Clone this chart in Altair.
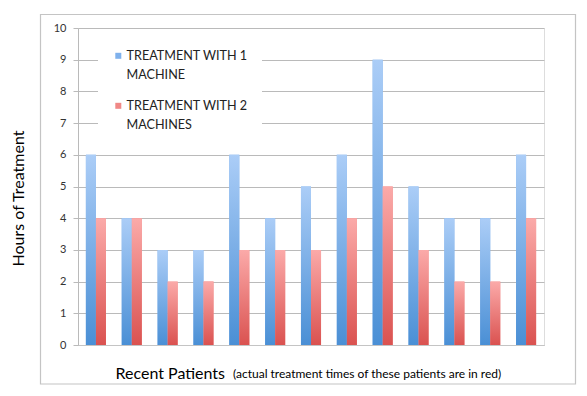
import altair as alt
import pandas as pd

patients = ["1", "2", "3", "4", "5", "6", "7", "8", "9", "10", "11", "12", "13"]
one_machine = [6, 4, 3, 3, 6, 4, 5, 6, 9, 5, 4, 4, 6]
two_machines = [4, 4, 2, 2, 3, 3, 3, 4, 5, 3, 2, 2, 4]
series = ["TREATMENT WITH 1 MACHINE", "TREATMENT WITH 2 MACHINES"]
legend_colors = ["#7fb1ec", "#f08886"]
y_ticks = [0, 1, 2, 3, 4, 5, 6, 7, 8, 9, 10]

rows = []
for p, a, b in zip(patients, one_machine, two_machines):
    rows.append({"patient": p, "series": series[0], "hours": a})
    rows.append({"patient": p, "series": series[1], "hours": b})
df = pd.DataFrame(rows)

W, H = 466, 317
FONT = "Lato"

x = alt.X(
    "patient:N",
    sort=patients,
    scale=alt.Scale(paddingInner=0.44, paddingOuter=0.22),
    axis=alt.Axis(
        title="Recent Patients", labels=False, ticks=False,
        domainColor="#c4c4c4", titleFont=FONT, titleFontSize=16,
        titleFontWeight="normal", titleColor="#000000",
        titleAlign="left", titleBaseline="alphabetic",
        titleX=37, titleY=33.5,
    ),
)
xo = alt.XOffset("series:N", scale=alt.Scale(domain=series, paddingInner=0, paddingOuter=0))
y = alt.Y(
    "hours:Q",
    scale=alt.Scale(domain=[0, 10], nice=False),
    axis=alt.Axis(
        values=y_ticks, title="Hours of Treatment", grid=True,
        gridColor="#bababa", domainColor="#bababa", tickColor="#bababa",
        tickSize=5, labelFont=FONT, labelFontSize=11, labelColor="#333333",
        labelPadding=7, titleFont=FONT, titleFontSize=16,
        titleFontWeight="normal", titleColor="#000000",
        titleAngle=-90, titleAlign="center", titleBaseline="middle",
        titleX=-59.5, titleY=170,
    ),
)

base = alt.Chart(df)

legend_layer = base.mark_bar().encode(
    x=x, xOffset=xo, y=y,
    color=alt.Color(
        "series:N",
        scale=alt.Scale(domain=series, range=legend_colors),
        legend=alt.Legend(
            title=None, orient="none", legendX=20, legendY=7.5, padding=14,
            fillColor="white", symbolType="square", symbolSize=36,
            symbolStrokeWidth=0, labelFont=FONT, labelFontSize=12.6,
            labelColor="#222222", labelOffset=2, labelLimit=400,
            rowPadding=18, labelBaseline="middle",
            labelExpr="split(replace(datum.label, ' MACHINE', '|MACHINE'), '|')",
        ),
    ),
)

blue_grad = alt.Gradient(
    gradient="linear",
    stops=[alt.GradientStop(color="#abcdf7", offset=0), alt.GradientStop(color="#4a8fd5", offset=1)],
    x1=0, x2=0, y1=0, y2=1,
)
red_grad = alt.Gradient(
    gradient="linear",
    stops=[alt.GradientStop(color="#fbaaa9", offset=0), alt.GradientStop(color="#da5250", offset=1)],
    x1=0, x2=0, y1=0, y2=1,
)

blue_bars = base.mark_bar(color=blue_grad).encode(x=x, xOffset=xo, y=y).transform_filter(
    alt.datum.series == series[0]
)
red_bars = base.mark_bar(color=red_grad).encode(x=x, xOffset=xo, y=y).transform_filter(
    alt.datum.series == series[1]
)

note = alt.Chart(alt.Data(values=[{}])).mark_text(
    text="(actual treatment times of these patients are in red)",
    align="left", baseline="alphabetic", font=FONT, fontSize=12, color="#000000",
).encode(x=alt.value(155), y=alt.value(350.3))

frame = alt.Chart(alt.Data(values=[{}])).mark_rect(
    fillOpacity=0, stroke="#c4c4c4", strokeWidth=1.2
).encode(x=alt.value(-37.5), x2=alt.value(497.5), y=alt.value(-13.5), y2=alt.value(356))

chart = alt.layer(frame, legend_layer, blue_bars, red_bars, note).properties(
    width=W, height=H, autosize="none",
    padding={"left": 70, "top": 20, "right": 35, "bottom": 43},
    background="white",
).configure_view(stroke=None).configure(
    style={"guide-label": {"lineHeight": 19}}
)

chart.save("out.html", embed_options={"renderer": "svg", "actions": False})
